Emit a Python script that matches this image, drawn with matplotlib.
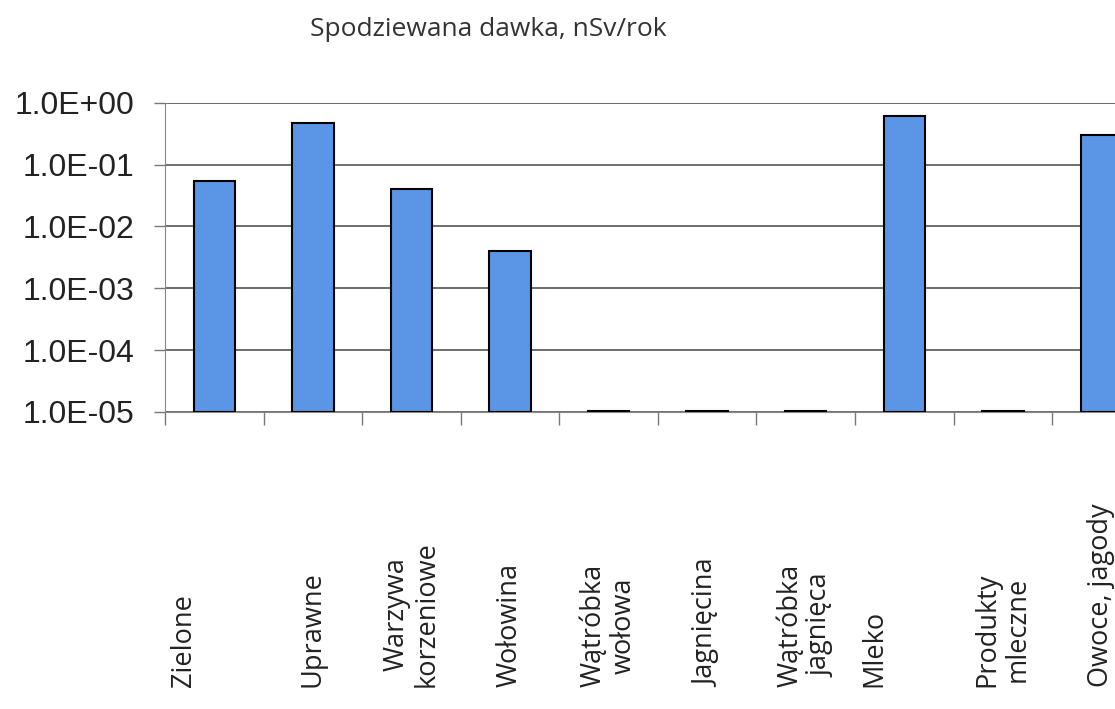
import matplotlib.pyplot as plt
from matplotlib.ticker import FixedLocator, FuncFormatter, NullFormatter
import numpy as np

# kategorie i wartości
categories = ["Zielone\n\n", "Uprawne", "Warzywa\nkorzeniowe", "Wołowina",
              "Wątróbka\nwołowa", "Jagnięcina", "Wątróbka\njagnięca",
              "Mleko\n\n", "Produkty\nmleczne", "Owoce, jagody"]
doses = [0.055, 0.48, 0.04, 0.004, 1.04e-5, 1.04e-5, 1.04e-5, 0.62, 1.04e-5, 0.30]
y_ticks = [1e-5, 1e-4, 1e-3, 1e-2, 1e-1, 1e0]
title = "Spodziewana dawka, nSv/rok"

base = 1e-5
x = np.arange(len(categories))

fig = plt.figure(figsize=(11.15, 7.09), dpi=100)
# osie wychodzą poza prawą krawędź, jak w oryginale (obcięty wykres)
ax = fig.add_axes([0.148, 0.419, 0.884, 0.436])

ax.bar(x, np.array(doses) - base, bottom=base, width=0.42,
       color='#5b95e6', edgecolor='black', linewidth=1.5, zorder=3)

ax.set_yscale('log')
ax.set_ylim(1e-5, 1e0)
ax.set_xlim(-0.5, len(categories) - 0.5)
ax.yaxis.set_major_locator(FixedLocator(y_ticks))
ax.yaxis.set_minor_locator(FixedLocator([]))
ax.yaxis.set_minor_formatter(NullFormatter())
ax.yaxis.set_major_formatter(FuncFormatter(lambda v, p: f"{v:.1E}"))
ax.grid(axis='y', color='#555555', linewidth=1.2, zorder=0)

ax.set_xticks(np.arange(len(categories) + 1) - 0.5)
ax.set_xticklabels([])
ax.tick_params(axis='x', length=9, width=1, color='#777777', direction='out')
ax.tick_params(axis='y', length=8, width=1, color='#777777', direction='out',
               labelsize=23, pad=14, labelcolor='#222222')
for lbl in ax.get_yticklabels():
    lbl.set_fontfamily('Liberation Sans')

for s in ['top', 'right']:
    ax.spines[s].set_visible(False)
ax.spines['left'].set_color('#888888')
ax.spines['bottom'].set_color('#888888')

trans = ax.get_xaxis_transform()
for xi, name in zip(x, categories):
    ax.text(xi, -0.89, name, transform=trans, rotation=90, ha='center', va='bottom',
            multialignment='center', fontsize=19.5, family='Open Sans', color='#222222',
            clip_on=False, linespacing=1.1)

fig.text(0.438, 0.958, title, ha='center', va='center', fontsize=19, family='Open Sans',
         color='#333333')

fig.savefig('out.png', dpi=100)
